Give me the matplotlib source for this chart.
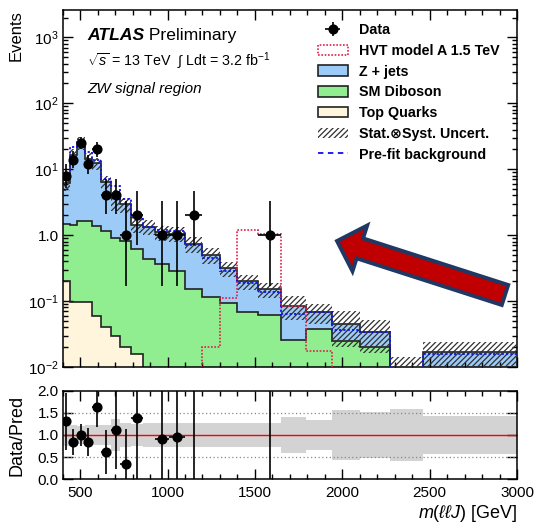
import numpy as np
import matplotlib
matplotlib.use('Agg')
from matplotlib import pyplot as plt
from matplotlib.patches import Patch, FancyArrow
from matplotlib.lines import Line2D
from matplotlib.ticker import FixedLocator, MultipleLocator, FuncFormatter, FormatStrFormatter, LogLocator, NullFormatter

plt.rcParams['font.family'] = ['Liberation Sans', 'DejaVu Sans']
plt.rcParams['mathtext.fontset'] = 'custom'
plt.rcParams['mathtext.rm'] = 'Liberation Sans'
plt.rcParams['mathtext.it'] = 'Liberation Sans:italic'
plt.rcParams['mathtext.bf'] = 'Liberation Sans:bold'
plt.rcParams['hatch.linewidth'] = 0.9

# binning in m(llJ) [GeV]
edges = np.array([400, 440, 480, 525, 570, 620, 675, 730, 790, 860, 930, 1010, 1100,
                  1200, 1300, 1400, 1520, 1650, 1790, 1940, 2100, 2275, 2460, 3000])

# observed events and 68% poisson intervals
data = np.array([8, 14, 25, 12, 20, 4, 4, 1, 2, 0, 1, 1, 2, 0, 0, 0, 1, 0, 0, 0, 0, 0, 0])
err_lo = np.array([2.76, 3.69, 4.96, 3.41, 4.43, 1.91, 1.91, 0.83, 1.29, 0, 0.83, 0.83, 1.29,
                   0, 0, 0, 0.83, 0, 0, 0, 0, 0, 0])
err_hi = np.array([3.94, 4.83, 6.06, 4.55, 5.54, 3.16, 3.16, 2.30, 2.64, 0, 2.30, 2.30, 2.64,
                   0, 0, 0, 2.30, 0, 0, 0, 0, 0, 0])

# post-fit backgrounds
top_quarks = np.array([0.20, 0.098, 0.098, 0.098, 0.060, 0.040, 0.030, 0.020, 0.016, 0, 0, 0, 0,
                       0, 0, 0, 0, 0, 0, 0, 0, 0, 0])
diboson = np.array([1.30, 1.32, 1.55, 1.55, 1.32, 1.11, 0.87, 0.80, 0.60, 0.43, 0.36, 0.29, 0.155,
                    0.115, 0.093, 0.069, 0.062, 0.026, 0.038, 0.025, 0.020, 0.003, 0.004])
zjets = np.array([4.6, 15.1, 23.4, 12.6, 10.9, 5.3, 2.7, 2.1, 0.83, 0.92, 0.74, 0.76, 0.58,
                  0.39, 0.22, 0.13, 0.088, 0.059, 0.030, 0.020, 0.014, 0.006, 0.0127])
rel_unc = np.array([0.24, 0.22, 0.21, 0.22, 0.22, 0.22, 0.35, 0.27, 0.25, 0.26, 0.26, 0.26, 0.26,
                    0.27, 0.27, 0.27, 0.27, 0.40, 0.33, 0.56, 0.52, 0.58, 0.43])
prefit = np.array([7.5, 22, 28, 18, 14, 7.2, 5.5, 3.5, 1.9, 1.35, 1.2, 1.15, 0.72,
                   0.45, 0.29, 0.19, 0.135, 0.064, 0.069, 0.036, 0.034, 0.006, 0.016])
hvt = np.array([0, 0, 0, 0, 0, 0, 0, 0, 0, 0, 0, 0, 0,
                0.020, 0.11, 1.2, 1.03, 0.085, 0.0177, 0, 0, 0, 0])

FLOOR = 1e-4
c_z = '#9ccbf8'
c_vv = '#90ee90'
c_top = '#fff5dc'
c_hatch = '#303030'

centers = 0.5*(edges[1:] + edges[:-1])
halfw = 0.5*(edges[1:] - edges[:-1])
stack_vv = top_quarks + diboson
total = stack_vv + zjets
has = data > 0

fig = plt.figure(figsize=(5.37, 5.28), dpi=100)
W, H = 537., 528.
ax = fig.add_axes([62.7/W, 1-367/H, 454.3/W, 357/H])
rax = fig.add_axes([62.7/W, 1-479.3/H, 454.3/W, 88.6/H], sharex=ax)

# stacked histograms
ax.stairs(np.maximum(total, FLOOR), edges, baseline=FLOOR, fill=True, facecolor=c_z, edgecolor='none', zorder=1)
ax.stairs(np.maximum(stack_vv, FLOOR), edges, baseline=FLOOR, fill=True, facecolor=c_vv, edgecolor='none', zorder=1)
ax.stairs(np.maximum(top_quarks, FLOOR), edges, baseline=FLOOR, fill=True, facecolor=c_top, edgecolor='none', zorder=1)
for h in (total, stack_vv, top_quarks):
    ax.stairs(np.maximum(h, FLOOR), edges, baseline=None, color='#222222', lw=1.2, zorder=2)

# uncertainty band
ax.stairs(total*(1+rel_unc), edges, baseline=np.maximum(total*(1-rel_unc), FLOOR), fill=True,
          facecolor='none', edgecolor=c_hatch, hatch='//////', lw=0, zorder=3)

ax.stairs(np.maximum(prefit, FLOOR), edges, baseline=None, color='#1010ee', lw=1.3,
          ls=(0, (1.2, 1.2)), zorder=4)
ax.stairs(np.maximum(hvt, FLOOR), edges, baseline=None, color='#e0204a', lw=1.2,
          ls=(0, (1, 1)), zorder=4)

dat = ax.errorbar(centers[has], data[has], yerr=[err_lo[has], err_hi[has]], xerr=halfw[has],
                  fmt='o', color='black', ms=6.3, elinewidth=1.2, capsize=0, zorder=5)

ax.set_yscale('log')
ax.set_xlim(400, 3000)
ax.set_ylim(1e-2, 2.6e3)

labs = {0.01: '$10^{-2}$', 0.1: '$10^{-1}$', 1: '1.0', 10: '$10^{1}$', 100: '$10^{2}$', 1000: '$10^{3}$'}
ax.yaxis.set_major_locator(FixedLocator(list(labs.keys())))
ax.yaxis.set_major_formatter(FuncFormatter(lambda v, p: labs.get(round(v, 2) if v < 1 else round(v), '')))
ax.yaxis.set_minor_locator(LogLocator(base=10, subs=np.arange(2, 10), numticks=20))
ax.yaxis.set_minor_formatter(NullFormatter())
ax.xaxis.set_major_locator(MultipleLocator(500))
ax.xaxis.set_minor_locator(MultipleLocator(100))
ax.tick_params(axis='x', labelbottom=False)
ax.set_ylabel('Events', fontsize=12, loc='top')
ax.yaxis.set_label_coords(-0.087, 1.0)

for a in (ax, rax):
    a.tick_params(which='both', direction='in', top=True, right=True, labelsize=11, width=1)
    a.tick_params(which='major', length=7)
    a.tick_params(which='minor', length=3.5)
    a.tick_params(axis='y', pad=3)
    for s in a.spines.values():
        s.set_linewidth(1.1)

# text
t1 = ax.text(0.0535, 0.916, 'ATLAS', transform=ax.transAxes, fontsize=12.6,
             fontweight='bold', fontstyle='italic', va='baseline')
ax.annotate(' Preliminary', xy=(1, 0), xycoords=t1, fontsize=12.6, va='bottom')
ax.text(0.0535, 0.841, r'$\sqrt{s}$ = 13 TeV  $\int$ Ldt = 3.2 fb$^{-1}$', transform=ax.transAxes,
        fontsize=10.3, va='baseline')
ax.text(0.0535, 0.768, 'ZW signal region', transform=ax.transAxes, fontsize=11,
        fontstyle='italic', va='baseline')

handles = [dat,
           Patch(facecolor='white', edgecolor='#e0204a', ls=(0, (1, 1)), lw=1.2),
           Patch(facecolor=c_z, edgecolor='#222222', lw=1.2),
           Patch(facecolor=c_vv, edgecolor='#222222', lw=1.2),
           Patch(facecolor=c_top, edgecolor='#222222', lw=1.2),
           Patch(facecolor='white', edgecolor=c_hatch, hatch='//////', lw=0),
           Line2D([], [], color='#1010ee', ls=(0, (3, 2.5)), lw=1.3)]
labels = ['Data', 'HVT model A 1.5 TeV', 'Z + jets', 'SM Diboson', 'Top Quarks',
          'Stat.\u2297Syst. Uncert.', 'Pre-fit background']
ax.legend(handles, labels, loc='upper left', bbox_to_anchor=(0.561, 0.963), frameon=False,
          prop={'weight': 'bold', 'size': 10.3}, handlelength=2.1, handleheight=0.77,
          handletextpad=0.79, labelspacing=0.47, borderpad=0, borderaxespad=0)

# ratio panel
rax.stairs(1+rel_unc, edges, baseline=1-rel_unc, fill=True, color='#d3d3d3', lw=0, zorder=1)
for yv in (0.5, 1.5):
    rax.axhline(yv, color='#888888', ls=(0, (1, 2)), lw=0.9, zorder=2)
rax.axhline(1.0, color='red', lw=1.0, zorder=2)
ratio = data/total
rax.errorbar(centers[has], ratio[has], yerr=err_hi[has]/total[has], xerr=halfw[has], fmt='o',
             color='black', ms=6.3, elinewidth=1.2, capsize=0, zorder=5)
rax.set_ylim(0, 2)
rax.yaxis.set_major_locator(MultipleLocator(0.5))
rax.yaxis.set_major_formatter(FormatStrFormatter('%.1f'))
rax.set_xlim(400, 3000)
rax.set_ylabel('Data/Pred', fontsize=13)
rax.yaxis.set_label_coords(-0.081, 0.5)
rax.set_xlabel(r'$m(\ell\ell J)$ [GeV]', fontsize=13, loc='right')
rax.xaxis.set_label_coords(1.0, -0.27)
rax.tick_params(axis='x', pad=5)

# arrow overlay in pixel coordinates
ov = fig.add_axes([0, 0, 1, 1], facecolor='none')
ov.set_xlim(0, W)
ov.set_ylim(H, 0)
ov.axis('off')
ov.add_patch(FancyArrow(505, 295, -168, -54, width=21, head_width=48, head_length=24,
                        length_includes_head=True, facecolor='#c00000', edgecolor='#1f3864', lw=2.8))

fig.savefig('out.png', dpi=100)
